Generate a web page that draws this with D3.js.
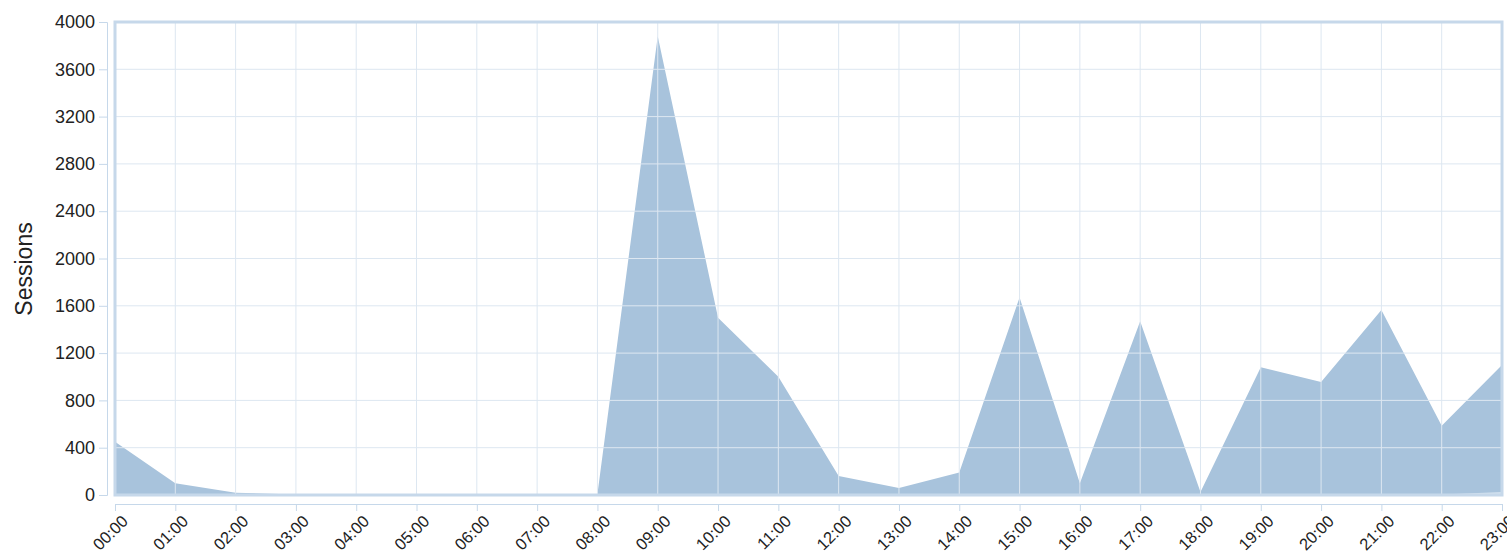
<!DOCTYPE html>
<html>
<head>
<meta charset="utf-8">
<script src="https://cdn.jsdelivr.net/npm/d3@7"></script>
<style>
  body { margin: 0; background: #fff; font-family: "Liberation Sans", Arial, sans-serif; }
</style>
</head>
<body>
<svg width="1507" height="556"></svg>
<script>
var hours = ['00:00','01:00','02:00','03:00','04:00','05:00','06:00','07:00','08:00','09:00','10:00','11:00',
             '12:00','13:00','14:00','15:00','16:00','17:00','18:00','19:00','20:00','21:00','22:00','23:00'];
var sessions = [450, 100, 20, 5, 3, 2, 2, 3, 8, 3880, 1500, 1000,
                160, 60, 190, 1670, 100, 1470, 25, 1080, 955, 1565, 585, 1100];
var sessionsNew = [0, 0, 0, 0, 0, 0, 0, 0, 0, 0, 0, 0,
                   0, 0, 0, 0, 0, 0, 0, 0, 0, 0, 5, 25];
var yTicks = [0, 400, 800, 1200, 1600, 2000, 2400, 2800, 3200, 3600, 4000];

var svg = d3.select('svg');
var margin = {top: 22, right: 5, bottom: 61, left: 115};
var width = 1507 - margin.left - margin.right;
var height = 556 - margin.top - margin.bottom;

var x = d3.scalePoint().domain(hours).range([0, width]);
var y = d3.scaleLinear().domain([0, 4000]).range([height, 0]);

var g = svg.append('g').attr('transform', 'translate(' + margin.left + ',' + margin.top + ')');

var area = d3.area()
  .x(function(d, i) { return x(hours[i]); })
  .y0(y(0))
  .y1(function(d) { return y(d); });

g.append('path').datum(sessions).attr('d', area).attr('fill', '#a8c3dc');
g.append('path').datum(sessionsNew).attr('d', area).attr('fill', '#d3e1ee');

// grid over the area
g.selectAll('.vgrid').data(hours).enter().append('line')
  .attr('x1', function(d) { return x(d); }).attr('x2', function(d) { return x(d); })
  .attr('y1', 0).attr('y2', height)
  .attr('stroke', '#dde7f1').attr('stroke-width', 1);
g.selectAll('.hgrid').data(yTicks).enter().append('line')
  .attr('x1', 0).attr('x2', width)
  .attr('y1', function(d) { return y(d); }).attr('y2', function(d) { return y(d); })
  .attr('stroke', '#dde7f1').attr('stroke-width', 1);

// frame
g.append('rect').attr('x', 0).attr('y', 0).attr('width', width).attr('height', height)
  .attr('fill', 'none').attr('stroke', '#c6d8ea').attr('stroke-width', 3);

// y axis
var yAxis = g.append('g').attr('transform', 'translate(-8,0)')
  .call(d3.axisLeft(y).tickValues(yTicks).tickFormat(d3.format('d')).tickSize(8).tickPadding(4));
yAxis.selectAll('path, line').attr('stroke', '#c6d8ea');
yAxis.selectAll('text').attr('font-size', 18).attr('fill', '#222')
  .attr('font-family', '"Liberation Sans", Arial, sans-serif');

// x axis
var xAxis = g.append('g').attr('transform', 'translate(0,' + (height + 9) + ')')
  .call(d3.axisBottom(x).tickSize(7).tickPadding(3));
xAxis.selectAll('path, line').attr('stroke', '#c6d8ea');
xAxis.selectAll('text').attr('font-size', 16.5).attr('fill', '#222')
  .attr('font-family', '"Liberation Sans", Arial, sans-serif')
  .attr('text-anchor', 'end')
  .attr('transform', 'rotate(-45)')
  .attr('dx', '-0.2em').attr('dy', '0.75em');

svg.append('text')
  .attr('transform', 'translate(32,269) rotate(-90)')
  .attr('text-anchor', 'middle')
  .attr('font-size', 23).attr('fill', '#222')
  .text('Sessions');
</script>
</body>
</html>
